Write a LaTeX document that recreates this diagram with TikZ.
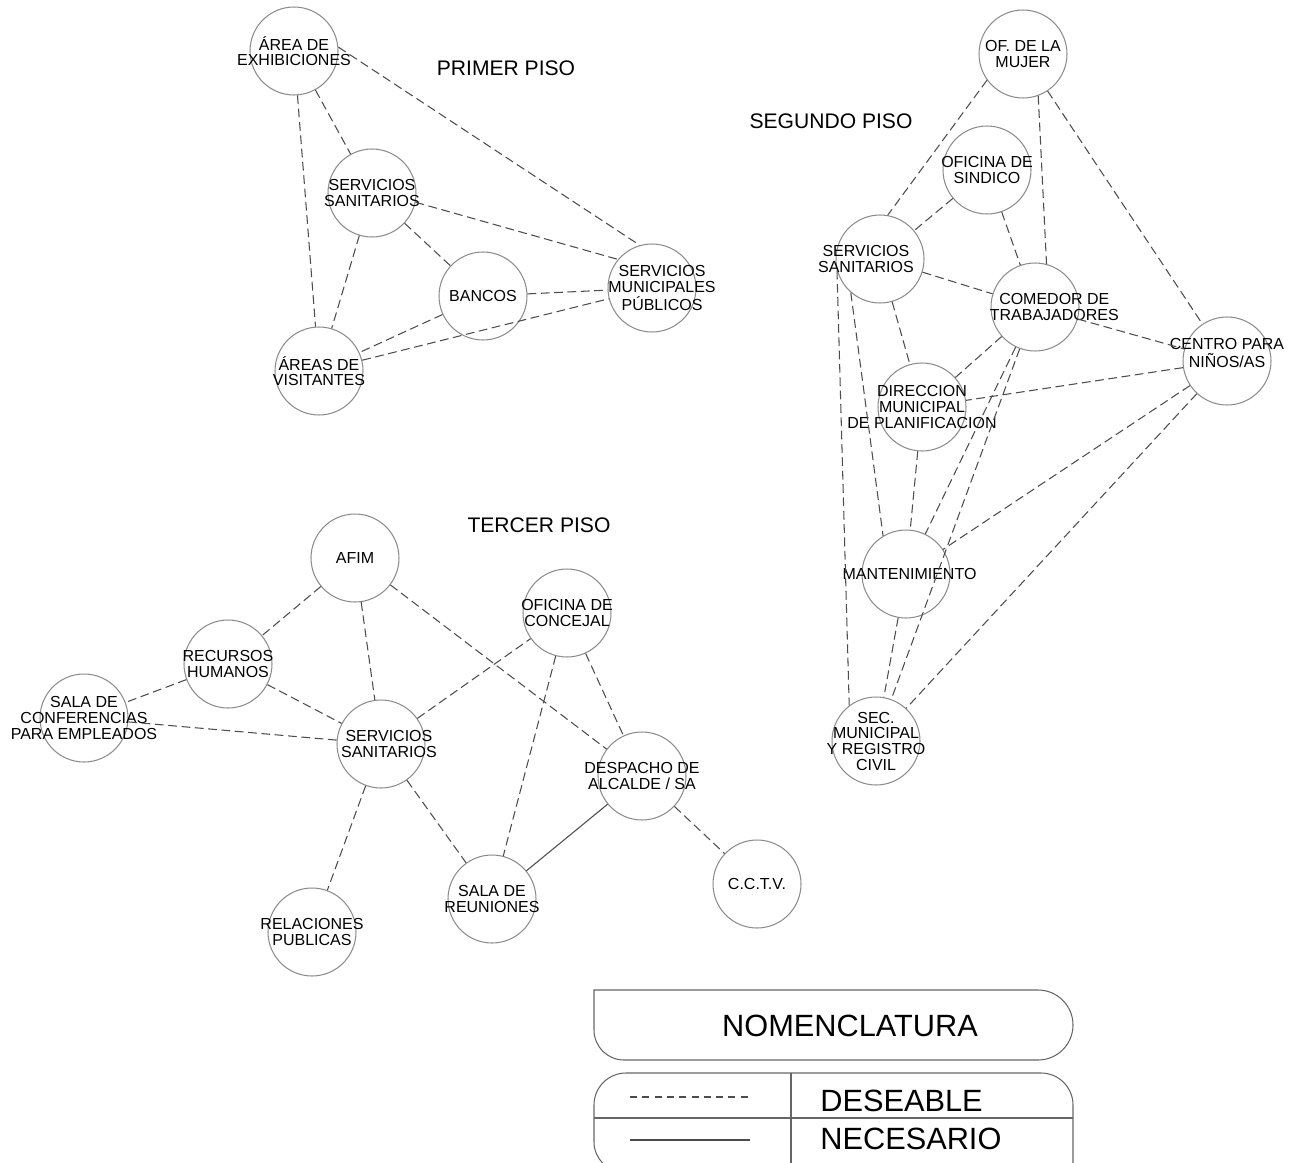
\documentclass[tikz,border=0pt]{standalone}
\usepackage{fontspec}
\setmainfont{Liberation Sans}
\usetikzlibrary{positioning}

% room label: [x shift][y shift]{lines}
\NewDocumentCommand{\rtext}{O{0pt} O{0pt} m}{%
  \makebox[0pt]{\hspace*{#1}\hspace*{#1}%
  \raisebox{\dimexpr #2-3.5pt\relax}[0pt][0pt]{\begin{tabular}{@{}c@{}}#3\end{tabular}}}}

\begin{document}
\begin{tikzpicture}[x=0.02cm, y=-0.02cm,
  room/.style={draw=black!45, line width=0.6pt, circle, minimum size=1.76cm,
               inner sep=0pt, font=\fontsize{9.1}{8.5}\selectfont},
  want/.style={draw=black!70, line width=0.6pt, dash pattern=on 5pt off 2.6pt},
  need/.style={draw=black!70, line width=0.6pt},
  floor/.style={font=\fontsize{12}{14}\selectfont},
  legend/.style={font=\fontsize{17.5}{20}\selectfont, inner sep=0pt},
]
\useasboundingbox (0,0) rectangle (1292,1163);

% Primer piso
\node[floor] (p1) at (506,68) {PRIMER PISO};
\node[room] (exh) at (294,51)  {\rtext{ÁREA DE\\EXHIBICIONES}};
\node[room] (ss1) at (372,193) {\rtext{SERVICIOS\\SANITARIOS}};
\node[room] (ban) at (483,296) {\rtext{BANCOS}};
\node[room] (smp) at (652,288) {\rtext[5.7pt]{SERVICIOS\\MUNICIPALES\\PÚBLICOS}};
\node[room] (vis) at (319,371) {\rtext{ÁREAS DE\\VISITANTES}};
\draw[want] (exh) -- (ss1);
\draw[want] (exh) -- (vis);
\draw[want] (exh.5) -- (smp.106);
\draw[want] (ss1.-12) -- (smp.140);
\draw[want] (ss1) -- (ban);
\draw[want] (ss1) -- (vis);
\draw[want] (ban) -- (smp);
\draw[want] (ban) -- (vis);
\draw[want] (vis) -- (smp);

% Segundo piso
\node[floor] (p2) at (831,121) {SEGUNDO PISO};
\node[room] (muj) at (1023,54)  {\rtext{OF. DE LA\\MUJER}};
\node[room] (sin) at (987,170)  {\rtext{OFICINA DE\\SINDICO}};
\node[room] (ss2) at (880,259)  {\rtext[-8pt]{SERVICIOS\\SANITARIOS}};
\node[room] (com) at (1035,307) {\rtext[11pt]{COMEDOR DE\\TRABAJADORES}};
\node[room] (cen) at (1227,361) {\rtext[0pt][4.5pt]{CENTRO PARA\\NIÑOS/AS}};
\node[room] (dir) at (922,407)  {\rtext{DIRECCION\\MUNICIPAL\\DE PLANIFICACION}};
\node[room] (man) at (906,574)  {\rtext[2pt]{MANTENIMIENTO}};
\node[room] (sec) at (876,741)  {\rtext{SEC.\\MUNICIPAL\\Y REGISTRO\\CIVIL}};
\draw[want] (muj.216) -- (ss2.80);
\draw[want] (muj.-70) -- (com.75);
\draw[want] (muj) -- (cen);
\draw[want] (sin) -- (ss2);
\draw[want] (sin) -- (com);
\draw[want] (ss2) -- (com);
\draw[want] (ss2) -- (dir);
\draw[want] (ss2.229) -- (man.121);
\draw[want] (ss2.195) -- (sec.127);
\draw[want] (com) -- (dir);
\draw[want] (com) -- (man);
\draw[want] (com) -- (sec);
\draw[want] (com) -- (cen);
\draw[want] (cen) -- (dir);
\draw[want] (cen) -- (man);
\draw[want] (cen) -- (sec);
\draw[want] (dir) -- (man);
\draw[want] (man) -- (sec);

% Tercer piso
\node[floor] (p3) at (539,525) {TERCER PISO};
\node[room] (afim) at (355,558) {\rtext{AFIM}};
\node[room] (rh)   at (228,664) {\rtext{RECURSOS\\HUMANOS}};
\node[room] (conf) at (84,718)  {\rtext{SALA DE\\CONFERENCIAS\\PARA EMPLEADOS}};
\node[room] (ss3)  at (381,744) {\rtext[4.5pt]{SERVICIOS\\SANITARIOS}};
\node[room] (rel)  at (312,932) {\rtext{RELACIONES\\PUBLICAS}};
\node[room] (conc) at (567,613) {\rtext{OFICINA DE\\CONCEJAL}};
\node[room] (desp) at (642,776) {\rtext{DESPACHO DE\\ALCALDE / SA}};
\node[room] (reu)  at (492,899) {\rtext{SALA DE\\REUNIONES}};
\node[room] (cctv) at (757,884) {\rtext{C.C.T.V.}};
\draw[want] (afim) -- (rh);
\draw[want] (afim) -- (ss3);
\draw[want] (afim) -- (desp);
\draw[want] (rh) -- (conf);
\draw[want] (rh) -- (ss3);
\draw[want] (conf) -- (ss3);
\draw[want] (ss3) -- (conc);
\draw[want] (ss3) -- (rel);
\draw[want] (ss3) -- (reu);
\draw[want] (conc) -- (reu);
\draw[want] (conc) -- (desp);
\draw[need] (desp) -- (reu);
\draw[want] (desp) -- (cctv);

% Nomenclatura
\draw[draw=black!60, line width=0.6pt] (594,990) -- (1038,990)
  arc[start angle=-90, end angle=90, radius=35] -- (624,1060)
  arc[start angle=90, end angle=180, radius=30] -- cycle;
\node[legend] (nom) at (850,1026) {NOMENCLATURA};
\draw[draw=black!60, line width=0.6pt] (1073,1175) -- (1073,1105)
  arc[start angle=0, end angle=-90, radius=32] -- (626,1073)
  arc[start angle=-90, end angle=-180, radius=32] -- (594,1142)
  arc[start angle=180, end angle=90, radius=30] -- (1073,1172);
\draw[draw=black!60, line width=0.6pt] (594,1118) -- (1073,1118);
\draw[draw=black!60, line width=0.6pt] (791,1073) -- (791,1175);
\coordinate (d1) at (630,1097);
\coordinate (d2) at (750,1097);
\coordinate (n1) at (630,1140);
\coordinate (n2) at (750,1140);
\draw[want, dash pattern=on 4pt off 3pt] (d1) -- (d2);
\draw[need] (n1) -- (n2);
\node[legend, anchor=west] (des) at (820,1101) {DESEABLE};
\node[legend, anchor=west] (nec) at (820,1139) {NECESARIO};
\end{tikzpicture}
\end{document}
